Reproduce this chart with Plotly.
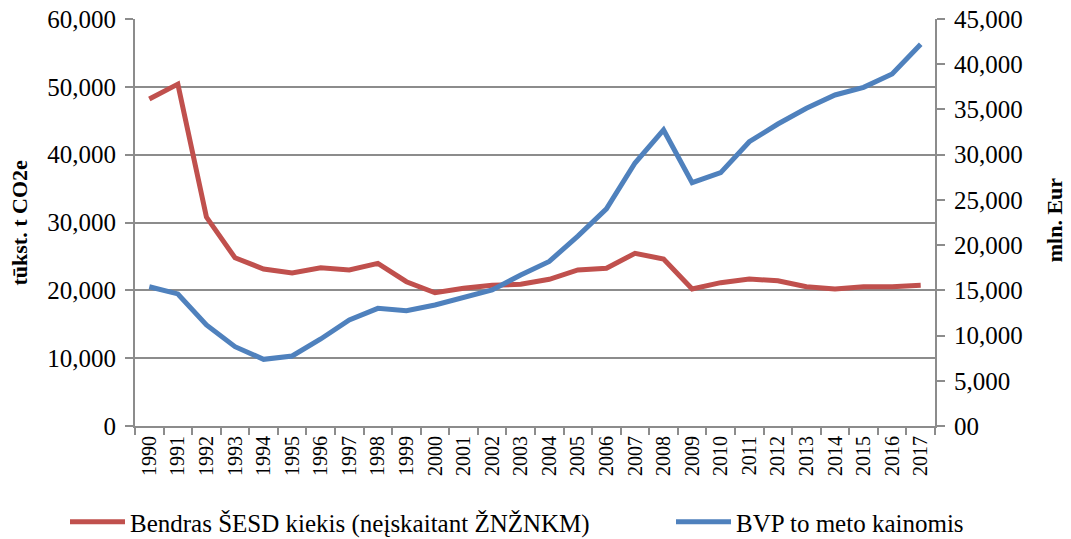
import plotly.graph_objects as go

years = [str(y) for y in range(1990, 2018)]
emissions = [48200, 50400, 30800, 24800, 23140, 22550, 23340, 23000, 23980, 21270,
             19650, 20300, 20740, 20900, 21630, 23000, 23250, 25460, 24620, 20200,
             21130, 21670, 21420, 20540, 20200, 20540, 20540, 20740]
gdp = [15400, 14600, 11170, 8770, 7370, 7740, 9620, 11720, 13010, 12750,
       13380, 14150, 15040, 16700, 18200, 21000, 24000, 29080, 32730, 26900,
       28010, 31430, 33390, 35130, 36600, 37450, 38920, 42200]

left_ticks = [0, 10000, 20000, 30000, 40000, 50000, 60000]
left_text = ["0", "10,000", "20,000", "30,000", "40,000", "50,000", "60,000"]
right_ticks = [0, 5000, 10000, 15000, 20000, 25000, 30000, 35000, 40000, 45000]
right_text = ["00", "5,000", "10,000", "15,000", "20,000", "25,000", "30,000", "35,000", "40,000", "45,000"]

name_em = "Bendras ŠESD kiekis (neįskaitant ŽNŽNKM)"
name_gdp = "BVP to meto kainomis"
title_left = "tūkst. t CO2e"
title_right = "mln. Eur"

font_family = "Liberation Serif"
axis_col = "#8c8c8c"

fig = go.Figure()
fig.add_trace(go.Scatter(x=years, y=emissions, name=name_em, mode="lines",
                         line=dict(color="#C0504D", width=5), legend="legend"))
fig.add_trace(go.Scatter(x=years, y=gdp, name=name_gdp, mode="lines", yaxis="y2",
                         line=dict(color="#4F81BD", width=5), legend="legend2"))

legend_common = dict(xanchor="left", y=-0.236, yanchor="middle", itemwidth=55,
                     font=dict(size=25, family=font_family), bgcolor="rgba(0,0,0,0)")

fig.update_layout(
    width=1071, height=539,
    margin=dict(l=135, r=136, t=19, b=113, autoexpand=False),
    paper_bgcolor="white", plot_bgcolor="white",
    font=dict(family=font_family, size=24, color="black"),
    showlegend=True,
    legend=dict(x=-0.0875, **legend_common),
    legend2=dict(x=0.67, **legend_common),
    xaxis=dict(type="category", tickangle=-90, tickfont=dict(size=20, family=font_family),
               automargin=False, ticklabeloverflow="allow",
               showline=True, linecolor=axis_col, linewidth=2,
               ticks="outside", tickson="boundaries", ticklen=7, tickcolor=axis_col, tickwidth=2,
               showgrid=False, zeroline=False, range=[-0.5, 27.5]),
    yaxis=dict(range=[0, 60000], tickvals=left_ticks, ticktext=left_text, automargin=False,
               tickfont=dict(size=25, family=font_family), ticklabelstandoff=4,
               ticklabeloverflow="allow",
               showline=True, linecolor=axis_col, linewidth=2,
               ticks="outside", ticklen=8, tickcolor=axis_col, tickwidth=2,
               showgrid=True, gridcolor=axis_col, gridwidth=2, zeroline=False),
    yaxis2=dict(range=[0, 45000], tickvals=right_ticks, ticktext=right_text, automargin=False,
                tickfont=dict(size=25, family=font_family), ticklabelstandoff=4,
                ticklabeloverflow="allow",
                overlaying="y", side="right",
                showline=True, linecolor=axis_col, linewidth=2,
                ticks="outside", ticklen=8, tickcolor=axis_col, tickwidth=2,
                showgrid=False, zeroline=False),
    annotations=[
        dict(text="<b>" + title_left + "</b>", textangle=-90, xref="paper", yref="paper",
             x=-0.145, y=0.50, xanchor="center", yanchor="middle", showarrow=False,
             font=dict(size=22, family=font_family)),
        dict(text="<b>" + title_right + "</b>", textangle=-90, xref="paper", yref="paper",
             x=1.149, y=0.506, xanchor="center", yanchor="middle", showarrow=False,
             font=dict(size=22, family=font_family)),
    ],
)

fig.write_html("out.html", config={"displayModeBar": False},
               post_script="document.body.style.margin='0';document.body.style.overflow='hidden';")
